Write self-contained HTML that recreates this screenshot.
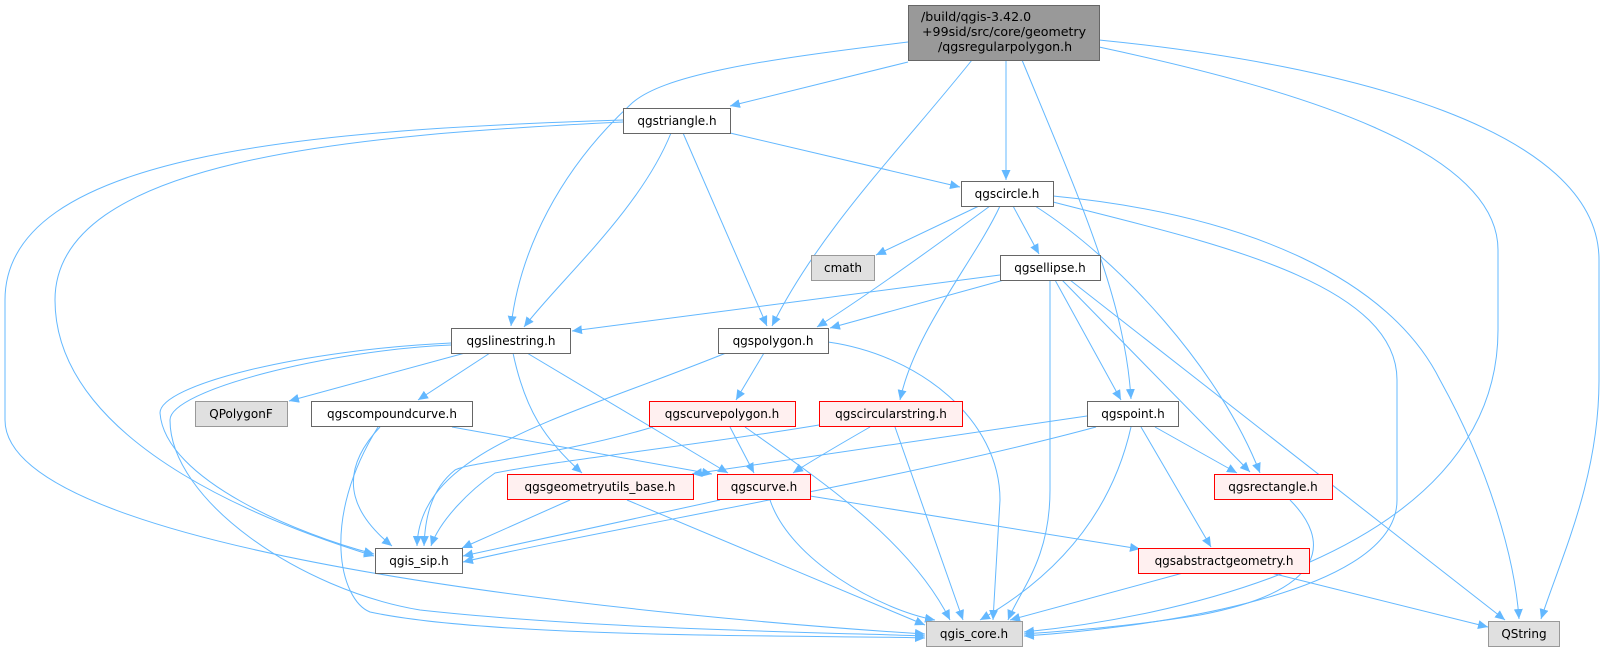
<!DOCTYPE html>
<html><head><meta charset="utf-8"><style>
html,body{margin:0;padding:0;background:#fff;}
svg{display:block;}
text{font-family:"DejaVu Sans","Liberation Sans",sans-serif;font-size:12px;fill:#000;}
.e{fill:none;stroke:#63b8ff;stroke-width:1;marker-end:url(#a);}
.n{fill:#fff;stroke:#666;}
.x{fill:#e0e0e0;stroke:#999;}
.r{fill:#fff0f0;stroke:#f00;}
</style></head><body>
<svg width="1605" height="652" viewBox="0 0 1605 652" xmlns="http://www.w3.org/2000/svg">
<defs><marker id="a" markerUnits="userSpaceOnUse" markerWidth="11" markerHeight="9" refX="10" refY="4.5" orient="auto"><path d="M0,0 L10,4.5 L0,9 z" fill="#63b8ff"/></marker></defs>
<path class="e" d="M908,62 L730,106"/>
<path class="e" d="M908,42 C760,60 660,75 630,105 C560,170 520,250 511,326"/>
<path class="e" d="M972,60 C900,150 820,230 772,326"/>
<path class="e" d="M1006,60 L1006,180"/>
<path class="e" d="M1022,60 C1080,200 1125,300 1131,399"/>
<path class="e" d="M1099,47 C1300,90 1498,150 1498,250 L1498,330 C1498,560 1150,620 1024,632"/>
<path class="e" d="M1099,40 C1350,65 1599,130 1599,260 L1599,380 C1599,480 1560,560 1541,619"/>
<path class="e" d="M730,133 L960,187"/>
<path class="e" d="M671,133 C640,210 560,280 524,327"/>
<path class="e" d="M683,133 L767,326"/>
<path class="e" d="M623,122 C350,135 55,160 55,300 C55,450 290,530 374,556"/>
<path class="e" d="M623,120 C300,130 5,155 5,300 L5,420 C5,560 700,620 925,634"/>
<path class="e" d="M979,206 L876,255"/>
<path class="e" d="M990,206 C930,250 860,300 817,327"/>
<path class="e" d="M1000,206 C975,260 915,330 900,400"/>
<path class="e" d="M1013,206 L1039,254"/>
<path class="e" d="M1035,206 C1120,260 1220,370 1260,473"/>
<path class="e" d="M1053,202 C1200,240 1397,280 1397,380 L1397,500 C1397,600 1120,630 1024,636"/>
<path class="e" d="M1053,196 C1250,215 1390,280 1440,380 C1490,470 1515,560 1519,619"/>
<path class="e" d="M1000,275 L572,331"/>
<path class="e" d="M1004,280 L830,328"/>
<path class="e" d="M1050,280 L1050,490 C1050,560 1020,590 1008,620"/>
<path class="e" d="M1055,280 L1121,400"/>
<path class="e" d="M1062,280 L1250,472"/>
<path class="e" d="M1070,280 L1505,620"/>
<path class="e" d="M465,353 L289,401"/>
<path class="e" d="M490,353 L418,400"/>
<path class="e" d="M513,353 C525,410 545,440 582,473"/>
<path class="e" d="M527,353 L728,473"/>
<path class="e" d="M451,343 C300,350 160,385 160,413 C165,480 300,535 374,554"/>
<path class="e" d="M451,345 C330,350 170,390 170,420 C170,500 300,590 420,610 C600,630 850,633 925,636"/>
<path class="e" d="M726,353 C560,420 420,450 417,546"/>
<path class="e" d="M764,353 L736,400"/>
<path class="e" d="M828,342 C920,355 1000,420 1000,500 L993,620"/>
<path class="e" d="M380,427 C330,480 360,520 392,546"/>
<path class="e" d="M378,427 C320,520 340,600 370,612 C500,640 850,635 925,638"/>
<path class="e" d="M452,427 L712,474"/>
<path class="e" d="M653,427 C560,455 470,462 455,470 C430,490 425,520 424,546"/>
<path class="e" d="M730,427 L754,473"/>
<path class="e" d="M745,427 C820,480 910,540 950,620"/>
<path class="e" d="M819,425 C700,445 560,460 495,473 C470,490 440,520 431,546"/>
<path class="e" d="M870,427 C830,450 805,465 793,473"/>
<path class="e" d="M895,427 L963,620"/>
<path class="e" d="M1087,416 L692,474"/>
<path class="e" d="M1096,427 C900,480 600,530 463,562"/>
<path class="e" d="M1131,427 C1110,520 1050,580 980,620"/>
<path class="e" d="M1155,427 L1237,473"/>
<path class="e" d="M1141,427 L1211,547"/>
<path class="e" d="M570,500 L462,548"/>
<path class="e" d="M627,500 L925,625"/>
<path class="e" d="M720,500 L463,556"/>
<path class="e" d="M770,500 C790,560 880,610 935,620"/>
<path class="e" d="M810,496 L1140,549"/>
<path class="e" d="M1290,500 C1330,540 1330,590 1200,615 C1120,628 1050,632 1024,634"/>
<path class="e" d="M1183,573 L1010,620"/>
<path class="e" d="M1271,573 L1488,627"/>
<rect x="908.5" y="5.5" width="191" height="55" fill="#999" stroke="#666"/>
<text x="921" y="21" style="font-size:12.6px">/build/qgis-3.42.0</text>
<text x="922" y="36" style="font-size:12.6px">+99sid/src/core/geometry</text>
<text x="938" y="51" style="font-size:12.6px">/qgsregularpolygon.h</text>
<rect class="n" x="623.5" y="108.5" width="107" height="25"/><text x="677" y="125" text-anchor="middle">qgstriangle.h</text>
<rect class="n" x="961.5" y="181.5" width="92" height="25"/><text x="1007" y="198" text-anchor="middle">qgscircle.h</text>
<rect class="x" x="811.5" y="255.5" width="63" height="25"/><text x="843" y="272" text-anchor="middle">cmath</text>
<rect class="n" x="1000.5" y="255.5" width="100" height="25"/><text x="1050" y="272" text-anchor="middle">qgsellipse.h</text>
<rect class="n" x="451.5" y="328.5" width="119" height="25"/><text x="511" y="345" text-anchor="middle">qgslinestring.h</text>
<rect class="n" x="718.5" y="328.5" width="110" height="25"/><text x="773" y="345" text-anchor="middle">qgspolygon.h</text>
<rect class="x" x="195.5" y="401.5" width="92" height="25"/><text x="241" y="418" text-anchor="middle">QPolygonF</text>
<rect class="n" x="311.5" y="401.5" width="161" height="25"/><text x="392" y="418" text-anchor="middle">qgscompoundcurve.h</text>
<rect class="r" x="649.5" y="401.5" width="146" height="25"/><text x="722" y="418" text-anchor="middle">qgscurvepolygon.h</text>
<rect class="r" x="819.5" y="401.5" width="143" height="25"/><text x="891" y="418" text-anchor="middle">qgscircularstring.h</text>
<rect class="n" x="1087.5" y="401.5" width="91" height="25"/><text x="1133" y="418" text-anchor="middle">qgspoint.h</text>
<rect class="r" x="507.5" y="474.5" width="186" height="25"/><text x="600" y="491" text-anchor="middle">qgsgeometryutils_base.h</text>
<rect class="r" x="717.5" y="474.5" width="93" height="25"/><text x="764" y="491" text-anchor="middle">qgscurve.h</text>
<rect class="r" x="1214.5" y="474.5" width="118" height="25"/><text x="1273" y="491" text-anchor="middle">qgsrectangle.h</text>
<rect class="n" x="375.5" y="548.5" width="87" height="25"/><text x="419" y="565" text-anchor="middle">qgis_sip.h</text>
<rect class="r" x="1138.5" y="548.5" width="171" height="25"/><text x="1224" y="565" text-anchor="middle">qgsabstractgeometry.h</text>
<rect class="x" x="926.5" y="621.5" width="96" height="25"/><text x="974" y="638" text-anchor="middle">qgis_core.h</text>
<rect class="x" x="1488.5" y="621.5" width="71" height="25"/><text x="1524" y="638" text-anchor="middle">QString</text>
</svg>
</body></html>
